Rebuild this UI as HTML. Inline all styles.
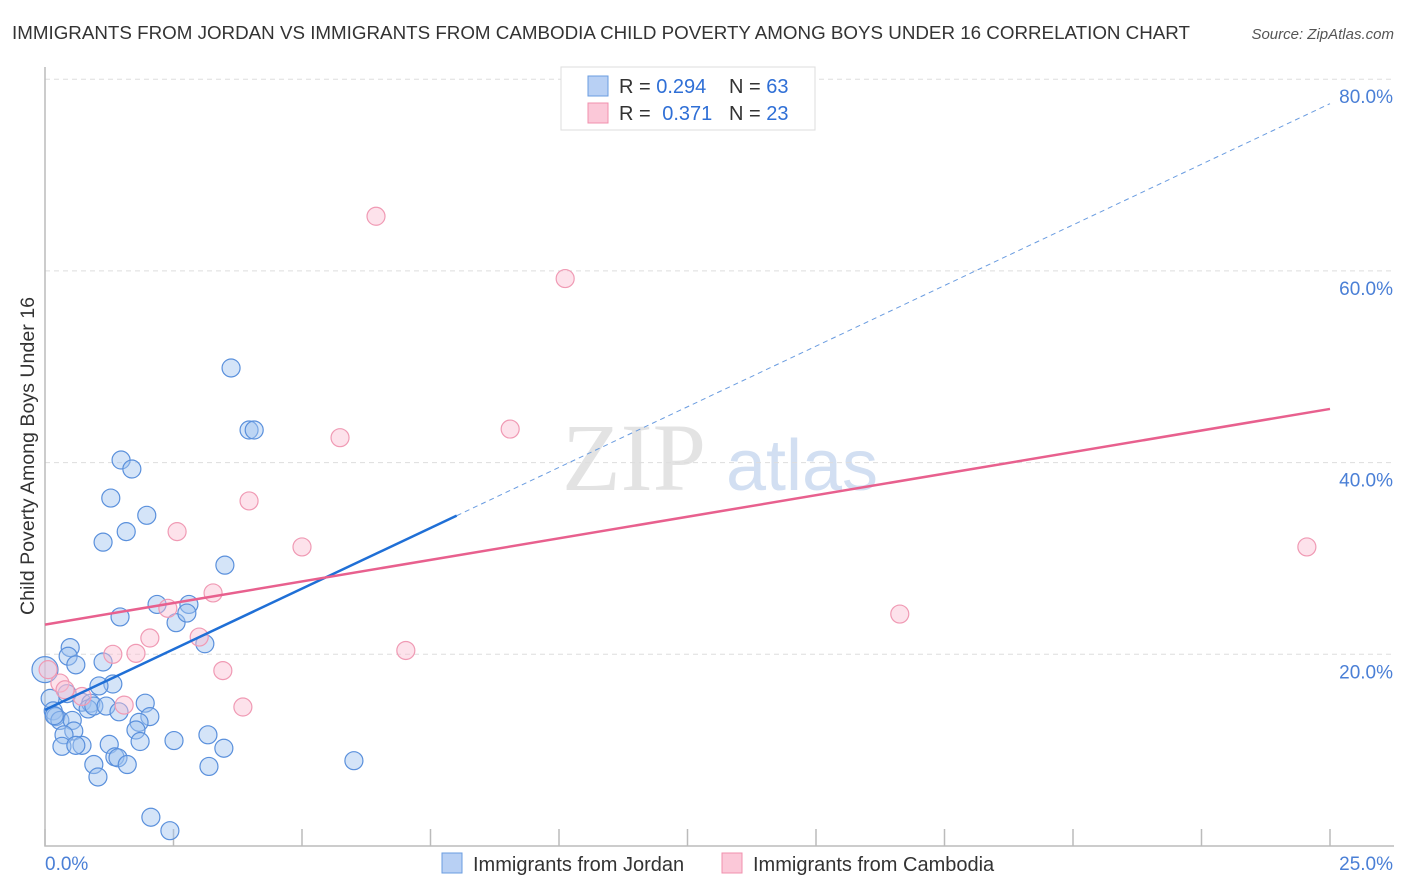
<!DOCTYPE html>
<html><head><meta charset="utf-8"><style>
body{margin:0;background:#fff;font-family:"Liberation Sans",sans-serif;}
svg{display:block}
</style></head><body>
<svg id="chart" width="1406" height="892" xmlns="http://www.w3.org/2000/svg">
<text x="12" y="39" font-size="18" fill="#333" textLength="1178" lengthAdjust="spacingAndGlyphs">IMMIGRANTS FROM JORDAN VS IMMIGRANTS FROM CAMBODIA CHILD POVERTY AMONG BOYS UNDER 16 CORRELATION CHART</text>
<text x="1394" y="39" font-size="15" fill="#555" font-style="italic" text-anchor="end">Source: ZipAtlas.com</text>
<g>
<text x="634" y="490" font-size="96" fill="#ddd" font-family="Liberation Serif,serif" text-anchor="middle" opacity="0.8">ZIP</text>
<text x="802" y="490" font-size="72" fill="#c8d8f0" text-anchor="middle" opacity="0.8">atlas</text>
</g>
<g id="grid"></g>
<g id="axes"></g>
<g id="marks"></g>
<text transform="translate(34,456) rotate(-90)" font-size="19" fill="#333" text-anchor="middle" textLength="318" lengthAdjust="spacingAndGlyphs">Child Poverty Among Boys Under 16</text>
<g>
<rect x="561" y="67" width="254" height="63" fill="#fff" stroke="#ddd"/>
<rect x="588" y="76" width="20" height="20" fill="#b8d0f4" stroke="#6a9ce0"/>
<rect x="588" y="103" width="20" height="20" fill="#fbc8d8" stroke="#f090ae"/>
<text x="619" y="93" font-size="20" fill="#333">R = <tspan fill="#2f6fd6">0.294</tspan></text>
<text x="729" y="93" font-size="20" fill="#333">N = <tspan fill="#2f6fd6">63</tspan></text>
<text x="619" y="120" font-size="20" fill="#333">R = <tspan fill="#2f6fd6" dx="6">0.371</tspan></text>
<text x="729" y="120" font-size="20" fill="#333">N = <tspan fill="#2f6fd6">23</tspan></text>
</g>
<g>
<rect x="442" y="853" width="20" height="20" fill="#b8d0f4" stroke="#6a9ce0"/>
<text x="473" y="871" font-size="20" fill="#333">Immigrants from Jordan</text>
<rect x="722" y="853" width="20" height="20" fill="#fbc8d8" stroke="#f090ae"/>
<text x="753" y="871" font-size="20" fill="#333">Immigrants from Cambodia</text>
</g>
</svg>
<script>
const jordanX=[3.62,3.97,4.07,1.48,1.69,1.28,1.98,1.58,1.13,3.50,2.18,2.80,2.55,2.76,1.46,3.11,0.49,0.45,1.13,0.60,0.0,1.32,1.05,0.43,0.10,0.72,0.89,0.84,0.95,1.19,1.95,0.16,0.21,0.29,0.53,1.44,2.04,1.83,1.77,0.56,0.37,0.72,0.33,1.25,1.85,2.51,3.17,3.48,1.36,1.42,1.60,0.95,1.03,6.01,3.19,2.06,2.43,0.60,0.18];
const jordanY=[49.87,43.4,43.4,40.27,39.33,36.3,34.5,32.8,31.7,29.3,25.2,25.2,23.3,24.3,23.9,21.1,20.7,19.8,19.2,18.9,18.4,16.9,16.7,15.9,15.4,15.0,14.9,14.3,14.6,14.6,14.9,14.1,13.5,13.1,13.1,14.0,13.5,12.9,12.1,12.0,11.6,10.5,10.4,10.6,10.9,11.0,11.6,10.2,9.3,9.2,8.5,8.5,7.2,8.9,8.3,3.0,1.6,10.5,13.6];
const cambodiaX=[6.44,10.12,5.74,9.05,3.97,2.57,5.0,24.55,3.27,2.39,16.63,2.04,3.0,7.02,1.32,1.77,3.46,3.85,1.54,0.29,0.39,0.06,0.72];
const cambodiaY=[65.7,59.2,42.6,43.5,36.0,32.8,31.2,31.2,26.4,24.8,24.2,21.7,21.8,20.4,20.0,20.1,18.3,14.5,14.7,17.0,16.3,18.4,15.6];
const jordanTrend=[14.2,2.53]; // intercept, slope
const cambodiaTrend=[23.1,0.9];
const xTicks=[0,2.5,5,7.5,10,12.5,15,17.5,20,22.5,25];
const yTicks=[20,40,60,80];
const yTickLabels=["20.0%","40.0%","60.0%","80.0%"];

const NS="http://www.w3.org/2000/svg";
const X=v=>45+v/25*1285, Y=v=>846-v*9.585;
function mk(tag,attrs,parent){const e=document.createElementNS(NS,tag);for(const k in attrs)e.setAttribute(k,attrs[k]);parent.appendChild(e);return e;}
const grid=document.getElementById('grid'),axes=document.getElementById('axes'),marks=document.getElementById('marks');
yTicks.forEach((t,i)=>{
  const l=mk('line',{x1:45,x2:1394,y1:Y(t),y2:Y(t),stroke:'#ddd','stroke-dasharray':'5,4'},grid);
  
  
  const tx=mk('text',{x:1393,y:Y(t)+24,'font-size':19,fill:'#4a7fd6','text-anchor':'end'},axes);
  tx.textContent=yTickLabels[i];
  
  
});
const ax=mk('path',{d:'M45,67 V846 H1394',fill:'none',stroke:'#bbb','stroke-width':1.5},axes);


xTicks.forEach(t=>{
  const l=mk('line',{x1:X(t),x2:X(t),y1:829,y2:846,stroke:'#bbb','stroke-width':1.5},axes);
  
  
});
const xl0=mk('text',{x:45,y:870,'font-size':19,fill:'#4a7fd6'},axes);xl0.textContent='0.0%';


const xl1=mk('text',{x:1393,y:870,'font-size':19,fill:'#4a7fd6','text-anchor':'end'},axes);xl1.textContent='25.0%';



jordanX.forEach((x,i)=>{
  const c=mk('circle',{cx:X(x),cy:Y(jordanY[i]),r:i==20?13:9,fill:'rgba(160,195,240,0.45)',stroke:'#5a90dc','stroke-width':1.2},marks);
  
  
});
cambodiaX.forEach((x,i)=>{
  const c=mk('circle',{cx:X(x),cy:Y(cambodiaY[i]),r:9,fill:'rgba(250,190,210,0.45)',stroke:'#f09ab4','stroke-width':1.2},marks);
  
  
});
const jEnd=Math.max(...jordanX)+2.0;
const jl=mk('line',{x1:X(0),y1:Y(jordanTrend[0]),x2:X(jEnd),y2:Y(jordanTrend[0]+jordanTrend[1]*jEnd),stroke:'#1f6fd6','stroke-width':2.5},marks);


const jd=mk('line',{x1:X(jEnd),y1:Y(jordanTrend[0]+jordanTrend[1]*jEnd),x2:X(25),y2:Y(jordanTrend[0]+jordanTrend[1]*25),stroke:'#6a9ce0','stroke-width':1,'stroke-dasharray':'5,4'},marks);


const cl=mk('line',{x1:X(0),y1:Y(cambodiaTrend[0]),x2:X(25),y2:Y(cambodiaTrend[0]+cambodiaTrend[1]*25),stroke:'#e8608e','stroke-width':2.5},marks);


</script>
</body></html>
